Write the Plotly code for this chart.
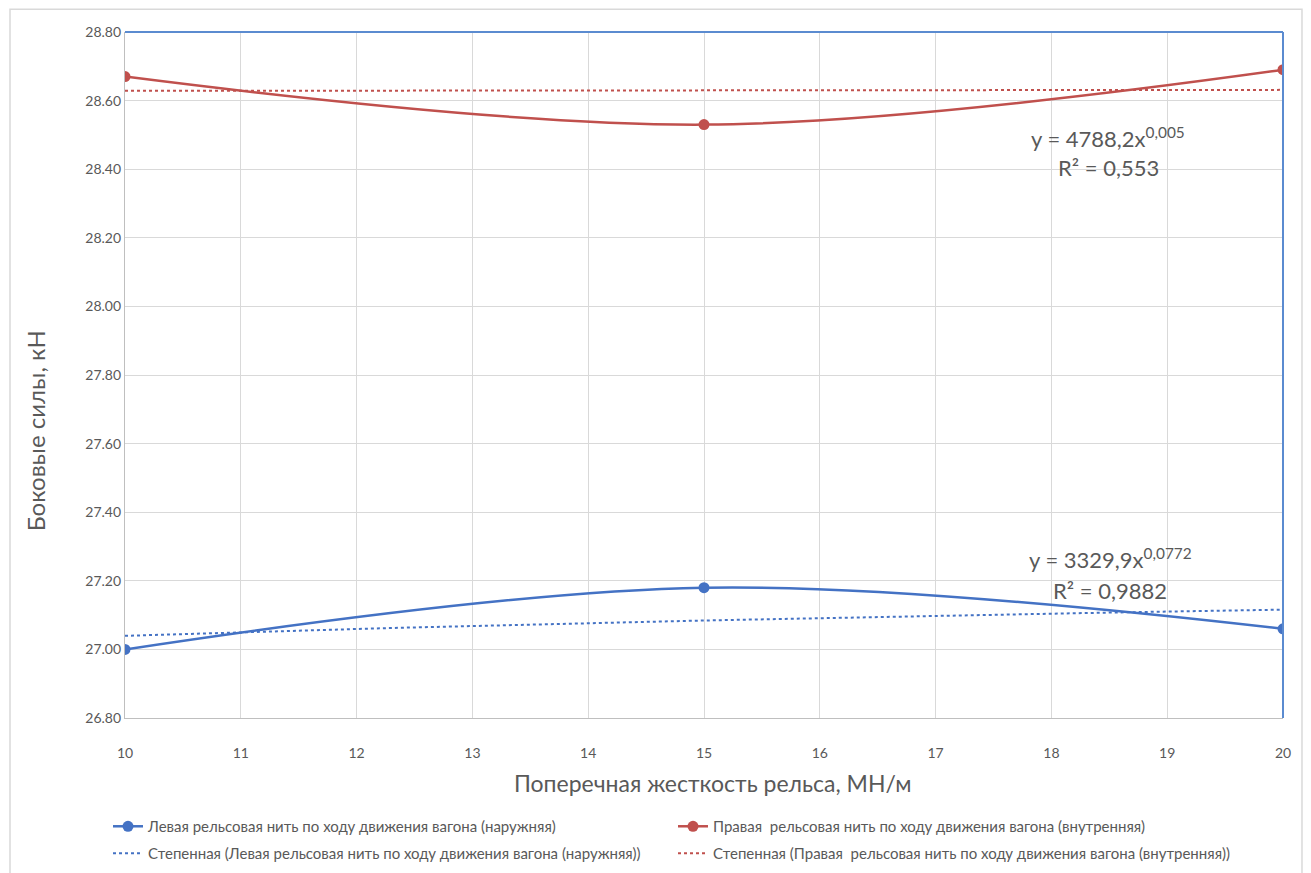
import numpy as np
import plotly.graph_objects as go

x_vals = [10, 15, 20]
left_rail = [27.00, 27.18, 27.06]
right_rail = [28.67, 28.53, 28.69]

name_left = "Левая рельсовая нить по ходу движения вагона (наружняя)"
name_right = "Правая  рельсовая нить по ходу движения вагона (внутренняя)"
name_left_tr = "Степенная (Левая рельсовая нить по ходу движения вагона (наружняя))"
name_right_tr = "Степенная (Правая  рельсовая нить по ходу движения вагона (внутренняя))"

eq_right = ["y = 4788,2x<sup>0,005</sup>", "R² = 0,553"]
eq_left = ["y = 3329,9x<sup>0,0772</sup>", "R² = 0,9882"]

x_title = "Поперечная жесткость рельса, МН/м"
y_title = "Боковые силы, кН"

BLUE = "#4472C4"
RED = "#C0504D"
GRAY = "#595959"
FONT = "Lato"


def power_fit(xs, ys):
    b, ln_a = np.polyfit(np.log(xs), np.log(ys), 1)
    xf = np.linspace(min(xs), max(xs), 60)
    return xf, np.exp(ln_a) * xf ** b


fig = go.Figure()
fig.add_trace(go.Scatter(x=x_vals, y=left_rail, name=name_left, mode="lines+markers",
                         line=dict(color=BLUE, width=2.5, shape="spline"),
                         marker=dict(size=11, color=BLUE), legend="legend"))
fig.add_trace(go.Scatter(x=x_vals, y=right_rail, name=name_right, mode="lines+markers",
                         line=dict(color=RED, width=2.5, shape="spline"),
                         marker=dict(size=11, color=RED), legend="legend"))
xf, yf = power_fit(x_vals, left_rail)
fig.add_trace(go.Scatter(x=xf, y=yf, name=name_left_tr, mode="lines",
                         line=dict(color=BLUE, width=2, dash="dot"), legend="legend2"))
xf, yf = power_fit(x_vals, right_rail)
fig.add_trace(go.Scatter(x=xf, y=yf, name=name_right_tr, mode="lines",
                         line=dict(color=RED, width=2, dash="dot"), legend="legend2"))

for (xa, ya, yb), txt in [((18.49, 28.491, 28.404), eq_right), ((18.51, 27.266, 27.173), eq_left)]:
    fig.add_annotation(x=xa, y=ya, xref="x", yref="y", text=txt[0], showarrow=False,
                       font=dict(family=FONT, size=22, color=GRAY), xanchor="center", yanchor="middle")
    fig.add_annotation(x=xa, y=yb, xref="x", yref="y", text=txt[1], showarrow=False,
                       font=dict(family=FONT, size=22, color=GRAY), xanchor="center", yanchor="middle")

# axis titles (placed as in the reference, slightly off-centre)
fig.add_annotation(x=0.508, y=-0.0948, xref="paper", yref="paper", text=x_title, showarrow=False,
                   font=dict(family=FONT, size=23, color=GRAY), xanchor="center", yanchor="middle")
fig.add_annotation(x=-0.0777, y=0.418, xref="paper", yref="paper", text=y_title, showarrow=False,
                   textangle=-90, font=dict(family=FONT, size=24, color=GRAY),
                   xanchor="center", yanchor="middle")

# outer chart frame
fig.add_shape(type="rect", xref="paper", yref="paper", x0=-0.0993, x1=1.0164, y0=-0.26, y1=1.033,
              line=dict(color="#d9d9d9", width=1.5), layer="below")
# blue top/right edges of plot area
fig.add_shape(type="line", xref="paper", yref="paper", x0=0, x1=1, y0=1, y1=1,
              line=dict(color="#5B8BD0", width=2))
fig.add_shape(type="line", xref="paper", yref="paper", x0=1, x1=1, y0=0, y1=1,
              line=dict(color="#5B8BD0", width=2))

legend_common = dict(orientation="h", xanchor="left", yanchor="top",
                     xref="container", yref="container",
                     entrywidth=520, entrywidthmode="pixels",
                     font=dict(family=FONT, size=15, color=GRAY), bgcolor="rgba(0,0,0,0)")

fig.update_layout(
    width=1303, height=865,
    margin=dict(l=117, r=28, t=24, b=155, autoexpand=False),
    paper_bgcolor="white", plot_bgcolor="white",
    font=dict(family=FONT, color=GRAY),
    showlegend=True,
    legend=dict(x=(117 - 17) / 1303, y=0.0728, **legend_common),
    legend2=dict(x=(117 - 17) / 1303, y=0.0416, **legend_common),
    xaxis=dict(range=[10, 20], dtick=1, showgrid=True, gridcolor="#d9d9d9", gridwidth=1.2,
               showline=True, linecolor="#bfbfbf", linewidth=1.2, zeroline=False,
               ticks="", tickfont=dict(size=14, color=GRAY), ticklabelstandoff=22),
    yaxis=dict(range=[26.8, 28.8], dtick=0.2, tickformat=".2f", showgrid=True, gridcolor="#d9d9d9",
               gridwidth=1.2, showline=True, linecolor="#bfbfbf", linewidth=1.2, zeroline=False,
               ticks="", tickfont=dict(size=14, color=GRAY)),
)

fig.write_html("out.html")
